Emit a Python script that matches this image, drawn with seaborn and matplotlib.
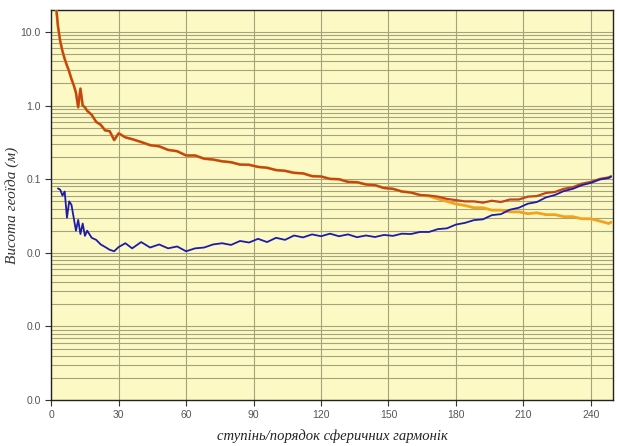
# -*- coding: utf-8 -*-

import matplotlib
matplotlib.use('Agg')
import matplotlib.pyplot as plt
import matplotlib.ticker as mticker
import numpy as np
import pandas as pd
import seaborn as sns

# degree / order of spherical harmonics
degrees = [2, 3, 4, 5, 6, 7, 8, 9, 10, 11, 12, 13, 14, 15, 16, 18, 20, 22, 24, 26,
           28, 30, 33, 36, 40, 44, 48, 52, 56, 60, 64, 68, 72, 76, 80, 84, 88, 92, 96, 100,
           104, 108, 112, 116, 120, 124, 128, 132, 136, 140, 144, 148, 152, 156, 160, 164, 168, 172, 176, 180,
           184, 188, 192, 196, 200, 204, 208, 212, 216, 220, 224, 228, 232, 236, 240, 244, 248, 249]

# geoid signal (orange)
signal = [25, 12, 7.5, 5.5, 4.3, 3.5, 2.9, 2.3, 1.9, 1.5, 0.95, 1.7, 1.0, 0.95, 0.85, 0.75, 0.6, 0.55, 0.46, 0.45,
          0.34, 0.42, 0.37, 0.35, 0.32, 0.29, 0.28, 0.25, 0.24, 0.21, 0.21, 0.19, 0.185, 0.175, 0.17, 0.158, 0.157, 0.147, 0.143, 0.133,
          0.13, 0.122, 0.12, 0.11, 0.109, 0.101, 0.1, 0.092, 0.091, 0.085, 0.083, 0.076, 0.074, 0.068, 0.066, 0.061, 0.059, 0.054, 0.05, 0.046,
          0.044, 0.041, 0.041, 0.038, 0.038, 0.036, 0.036, 0.034, 0.035, 0.033, 0.033, 0.031, 0.031, 0.029, 0.029, 0.027, 0.025, 0.026]

# total (signal + error), red-brown
total = [25, 12, 7.5, 5.5, 4.3, 3.5, 2.9, 2.3, 1.9, 1.5, 0.95, 1.7, 1.0, 0.95, 0.85, 0.75, 0.6, 0.55, 0.46, 0.45,
         0.34, 0.42, 0.37, 0.35, 0.32, 0.29, 0.28, 0.25, 0.24, 0.21, 0.21, 0.19, 0.185, 0.175, 0.17, 0.158, 0.157, 0.147, 0.143, 0.133,
         0.13, 0.122, 0.12, 0.11, 0.109, 0.101, 0.1, 0.092, 0.091, 0.085, 0.083, 0.076, 0.074, 0.068, 0.066, 0.061, 0.06, 0.058, 0.054, 0.052,
         0.050, 0.050, 0.048, 0.051, 0.049, 0.053, 0.053, 0.058, 0.059, 0.065, 0.067, 0.074, 0.078, 0.087, 0.092, 0.101, 0.106, 0.110]

# error (blue)
error = [np.nan, 0.075, 0.072, 0.06, 0.068, 0.03, 0.05, 0.045, 0.03, 0.02, 0.028, 0.018, 0.025, 0.017, 0.02, 0.016, 0.015, 0.013, 0.012, 0.011,
         0.0105, 0.012, 0.0135, 0.0115, 0.014, 0.0118, 0.013, 0.0115, 0.0122, 0.0105, 0.0115, 0.0118, 0.013, 0.0135, 0.0128, 0.0145, 0.0138, 0.0155, 0.014, 0.016,
         0.015, 0.0172, 0.0162, 0.0178, 0.0168, 0.0182, 0.0168, 0.0178, 0.0163, 0.0172, 0.0164, 0.0175, 0.017, 0.0182, 0.018, 0.0192, 0.0192, 0.021, 0.0215, 0.0242,
         0.0255, 0.0278, 0.0285, 0.0325, 0.0335, 0.0385, 0.041, 0.0465, 0.049, 0.0565, 0.061, 0.069, 0.074, 0.083, 0.089, 0.099, 0.104, 0.108]

y_ticks = [1e-4, 1e-3, 1e-2, 1e-1, 1, 10]
x_ticks = [0, 30, 60, 90, 120, 150, 180, 210, 240]

sns.set_style('ticks')
plt.rcParams['font.family'] = ['Liberation Sans', 'DejaVu Sans']

df = pd.DataFrame({'n': degrees, 'signal': signal, 'total': total, 'error': error})

fig = plt.figure(figsize=(6.17, 4.46), dpi=100)
ax = fig.add_axes([0.083, 0.103, 0.911, 0.875])
ax.set_facecolor('#fdf9c4')

sns.lineplot(data=df, x='n', y='signal', color='#f2a31c', linewidth=2.0, ax=ax, sort=False, estimator=None, zorder=3)
sns.lineplot(data=df, x='n', y='total', color='#c0461a', linewidth=1.6, ax=ax, sort=False, estimator=None, zorder=4)
sns.lineplot(data=df.dropna(), x='n', y='error', color='#1c1ca8', linewidth=1.3, ax=ax, sort=False, estimator=None, zorder=5)

ax.set_yscale('log')
ax.set_xlim(0, 250)
ax.set_ylim(1e-4, 20)
ax.yaxis.set_major_locator(mticker.FixedLocator(y_ticks))
ax.yaxis.set_major_formatter(mticker.FuncFormatter(lambda v, p: '%.1f' % v))
ax.yaxis.set_minor_locator(mticker.LogLocator(base=10, subs=np.arange(2, 10)))
ax.yaxis.set_minor_formatter(mticker.NullFormatter())
ax.set_xticks(x_ticks)

ax.grid(which='both', axis='y', color='#a3a37e', linewidth=0.8)
ax.grid(which='major', axis='x', color='#a3a37e', linewidth=0.8)
ax.set_axisbelow(True)

ax.tick_params(which='major', length=4, width=0.8, labelsize=7.5, labelcolor='#555555', colors='#333333')
ax.tick_params(which='minor', length=0)
for s in ax.spines.values():
    s.set_linewidth(1.0)
    s.set_color('#222222')

ax.set_xlabel('ступінь/порядок сферичних гармонік', family=['Liberation Serif', 'DejaVu Serif'],
              style='italic', fontsize=10.5, color='#222222', labelpad=6)
ax.set_ylabel('Висота геоїда (м)', family=['Liberation Serif', 'DejaVu Serif'],
              style='italic', fontsize=11, color='#333333')
ax.yaxis.set_label_coords(-0.058, 0.5)

fig.savefig('out.png', dpi=100)
